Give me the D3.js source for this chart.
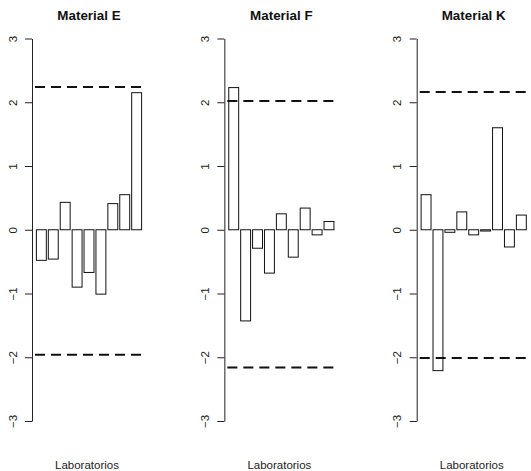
<!DOCTYPE html>
<html>
<head>
<meta charset="utf-8">
<script src="https://cdn.jsdelivr.net/npm/d3@7"></script>
<style>
  body { margin: 0; background: #fff; }
  svg { display: block; font-family: "Liberation Sans", Arial, sans-serif; }
</style>
</head>
<body>
<svg id="chart" width="531" height="471"></svg>
<script>
'use strict'

// data
const materials = ['Material E', 'Material F', 'Material K']
const labs = [1, 2, 3, 4, 5, 6, 7, 8, 9]
const valuesE = [-0.48, -0.46, 0.43, -0.90, -0.67, -1.01, 0.41, 0.55, 2.15]
const valuesF = [2.23, -1.43, -0.29, -0.68, 0.25, -0.43, 0.34, -0.08, 0.13]
const valuesK = [0.55, -2.21, -0.04, 0.28, -0.08, -0.02, 1.60, -0.27, 0.23]
const upperLimits = [2.24, 2.02, 2.16]
const lowerLimits = [-1.96, -2.16, -2.01]
const yTicks = [-3, -2, -1, 0, 1, 2, 3]
const allValues = [valuesE, valuesF, valuesK]

const panelStep = 192.35 // panels are wider than the window, last one is cut off
const plotLeft = 32
const plotWidth = 114

const svg = d3.select('#chart')

// same y scale for every panel
const y = d3.scaleLinear().domain([-3, 3]).range([421, 38.5])

materials.forEach((name, i) => {
	const x0 = plotLeft + panelStep * i
	const g = svg.append('g').attr('transform', 'translate(' + x0 + ',0)')

	const x = d3.scaleBand().domain(labs).range([0, plotWidth])
		.paddingInner(1 / 6).paddingOuter(0.37)

	// bars
	g.selectAll('.bar')
		.data(allValues[i])
	.enter().append('rect')
		.attr('x', (d, j) => x(labs[j]))
		.attr('y', (d) => y(Math.max(0, d)))
		.attr('width', x.bandwidth())
		.attr('height', (d) => Math.max(1, Math.abs(y(d) - y(0))))
		.attr('fill', '#fff')
		.attr('stroke', '#111')
		.attr('stroke-width', 1)

	// limit lines
	g.selectAll('.limit')
		.data([upperLimits[i], lowerLimits[i]])
	.enter().append('line')
		.attr('x1', 0).attr('x2', plotWidth)
		.attr('y1', (d) => y(d)).attr('y2', (d) => y(d))
		.attr('stroke', '#111')
		.attr('stroke-width', 2)
		.attr('stroke-dasharray', '10,6')
		.attr('stroke-dashoffset', -3)

	// y axis
	const yAxis = g.append('g')
		.call(d3.axisLeft(y).tickValues(yTicks).tickSize(7).tickSizeOuter(0).tickFormat(d3.format('d')))
	yAxis.select('.domain').attr('stroke', '#222')
	yAxis.selectAll('.tick line').attr('stroke', '#222')
	yAxis.selectAll('.tick text')
		.attr('x', null).attr('dy', null)
		.attr('transform', 'translate(-15.5,0) rotate(-90)')
		.attr('text-anchor', 'middle')
		.attr('font-size', '11.5px')
		.attr('font-family', '"Liberation Sans", Arial, sans-serif')
		.attr('fill', '#222')

	// title
	g.append('text')
		.attr('x', plotWidth / 2).attr('y', 20)
		.attr('text-anchor', 'middle')
		.attr('font-size', '13.4px')
		.attr('font-weight', 'bold')
		.attr('fill', '#111')
		.text(name)

	// x label
	g.append('text')
		.attr('x', plotWidth / 2 - 2).attr('y', 469)
		.attr('text-anchor', 'middle')
		.attr('font-size', '11.5px')
		.attr('fill', '#222')
		.text('Laboratorios')
})
</script>
</body>
</html>
